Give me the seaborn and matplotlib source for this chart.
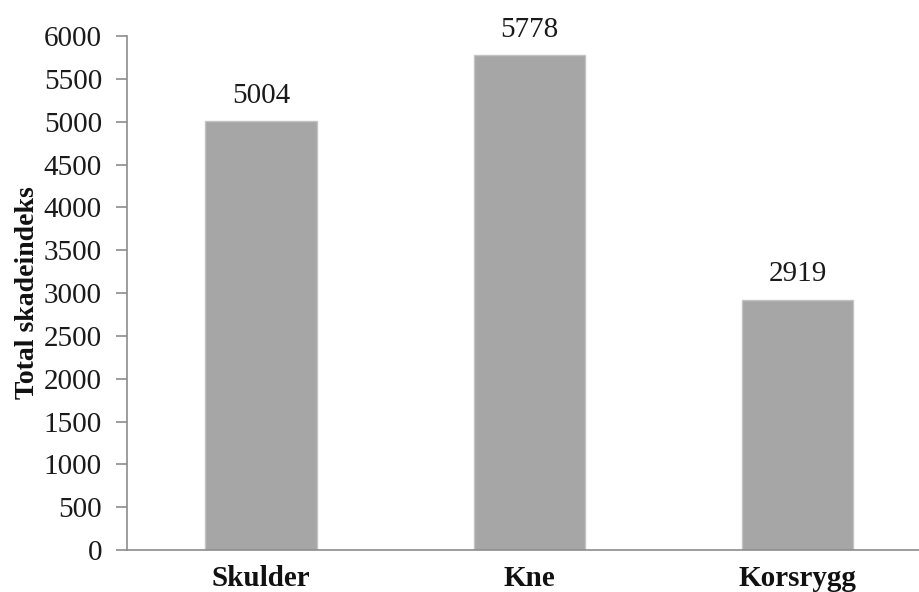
import matplotlib
matplotlib.use("Agg")
import matplotlib.pyplot as plt
import seaborn as sns
import pandas as pd

categories = ["Skulder", "Kne", "Korsrygg"]
values = [5004, 5778, 2919]
yticks = [0, 500, 1000, 1500, 2000, 2500, 3000, 3500, 4000, 4500, 5000, 5500, 6000]

sns.set_theme(style="white")
plt.rcParams["font.family"] = ["Liberation Serif", "DejaVu Serif"]

df = pd.DataFrame({"kategori": categories, "verdi": values})

fig = plt.figure(figsize=(9.2, 5.92), dpi=100)
ax = fig.add_axes([0.138, 0.071, 0.875, 0.868])

sns.barplot(data=df, x="kategori", y="verdi", color="#a6a6a6", saturation=1,
            width=0.415, edgecolor="#c4c4c4", linewidth=1.0, ax=ax)

ax.set_ylim(0, 6000)
ax.set_xlim(-0.5, 2.5)
ax.set_yticks(yticks)
ax.set_yticklabels([str(t) for t in yticks], fontsize=21, color="#1a1a1a")
ax.set_xticks(range(len(categories)))
ax.set_xticklabels(categories, fontsize=21, fontweight="bold", color="#111111")
ax.tick_params(axis="y", which="major", length=8, width=1.2, color="#8c8c8c",
               left=True, pad=10)
ax.tick_params(axis="x", length=0, pad=11)

ax.set_xlabel("")
ax.set_ylabel("Total skadeindeks", fontsize=20, fontweight="bold", labelpad=3,
              color="#111111")

for side in ["top", "right"]:
    ax.spines[side].set_visible(False)
for side in ["left", "bottom"]:
    ax.spines[side].set_color("#8c8c8c")
    ax.spines[side].set_linewidth(1.2)

for i, v in enumerate(values):
    ax.annotate(str(v), xy=(i, v), xytext=(0, 9), textcoords="offset points",
                ha="center", va="bottom", fontsize=21, color="#1a1a1a")

fig.savefig("out.png", dpi=100, facecolor="white")
